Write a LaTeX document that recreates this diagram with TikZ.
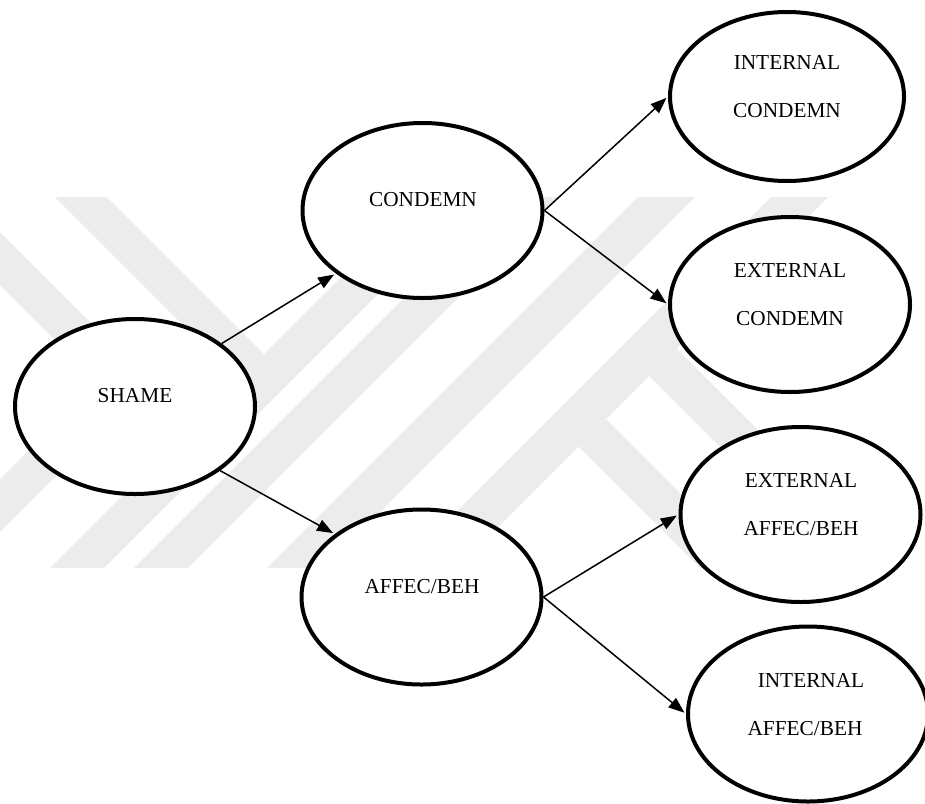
\documentclass[tikz,border=0pt]{standalone}
\usepackage{fontspec}
\setmainfont{Liberation Serif}
\usetikzlibrary{arrows.meta,shapes.geometric}
\begin{document}
\begin{tikzpicture}[x=1pt,y=-1pt,
  ell/.style={draw=black, line width=4pt, fill=white, ellipse, minimum width=240pt, minimum height=175pt, inner sep=0pt},
  lbl/.style={font=\fontsize{21.3}{48}\selectfont, align=center, inner sep=0pt},
  arr/.style={line width=1.5pt, -{Triangle[length=16pt,width=12pt]}, shorten >=2pt},
  wm/.style={fill=black!7.5}]
\useasboundingbox (0,0) rectangle (925,803);
% watermark
\begin{scope}
\clip (0,197) rectangle (925,567);
\fill[wm] (-100,132) -- (150,382) -- (-100,632) -- (-100,579) -- (97,382) -- (-100,185) -- cycle;
\fill[wm] (-50,40) -- (291,381) -- (238,380) -- (-50,92) -- cycle;
\fill[wm] (18,600) -- (72,600) -- (522,150) -- (468,150) -- cycle;
\fill[wm] (102,600) -- (156,600) -- (606,150) -- (552,150) -- cycle;
\fill[wm] (235,600) -- (292,600) -- (742,150) -- (685,150) -- cycle;
\fill[wm] (368,600) -- (425,600) -- (875,150) -- (818,150) -- cycle;
\fill[wm] (648,320) -- (1000,672) -- (1000,727) -- (649,376) -- cycle;
\fill[wm] (606,419) -- (1000,813) -- (1000,868) -- (578.5,446.5) -- cycle;
\end{scope}
% ellipses
\node[ell] (shame) at (135,406.5) {};
\node[ell] (condemn) at (422.5,210.5) {};
\node[ell] (affec) at (421.5,597) {};
\node[ell, minimum width=234pt, minimum height=169pt] (intcond) at (787,96.5) {};
\node[ell] (extcond) at (790,304.5) {};
\node[ell] (extaffec) at (800.5,514.5) {};
\node[ell] (intaffec) at (808,714) {};
% labels
\node[lbl] (shame-t) at (135,396) {SHAME};
\node[lbl] (condemn-t) at (423,200) {CONDEMN};
\node[lbl] (affec-t) at (422,587) {AFFEC/BEH};
\node[lbl] (intcond-t) at (787,87) {INTERNAL\\CONDEMN};
\node[lbl] (extcond-t) at (790,295) {EXTERNAL\\CONDEMN};
\node[lbl] (extaffec-t) at (801,505) {EXTERNAL\\AFFEC/BEH};
\node[lbl] (intaffec-t) at (805,704.5) {\hspace*{12pt}INTERNAL\\AFFEC/BEH};
% connectors
\draw[arr] (shame.36) -- (condemn.216);
\draw[arr] (shame.-37) -- (affec.144);
\draw[arr] (condemn.east) -- (intcond.west);
\draw[arr] (condemn.east) -- (extcond.west);
\draw[arr] (affec.east) -- (extaffec.west);
\draw[arr] (affec.east) -- (intaffec.west);
\end{tikzpicture}
\end{document}
